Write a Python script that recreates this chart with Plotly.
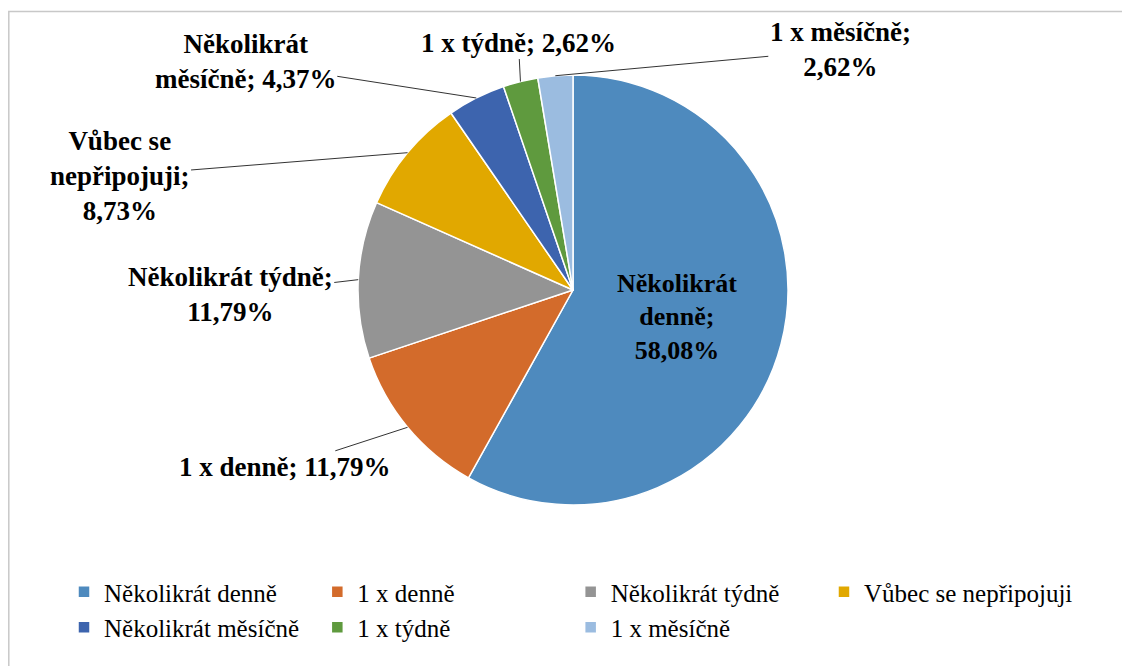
import math
import plotly.graph_objects as go

# Data
categories = ["Několikrát denně", "1 x denně", "Několikrát týdně", "Vůbec se nepřipojuji",
              "Několikrát měsíčně", "1 x týdně", "1 x měsíčně"]
shares = [58.08, 11.79, 11.79, 8.73, 4.37, 2.62, 2.62]
# wrapped label names as in the original chart
label_names = ["Několikrát<br>denně;", "1 x denně;", "Několikrát týdně;", "Vůbec se<br>nepřipojuji;",
               "Několikrát<br>měsíčně;", "1 x týdně;", "1 x měsíčně;"]
label_breaks = ["<br>", " ", "<br>", "<br>", " ", " ", "<br>"]
colors = ["#4E8ABE", "#D36B2B", "#949494", "#E1A800", "#3D64AE", "#5F9A3E", "#9BBCE0"]

W, H = 1130, 666
OFF = 8  # page body margin shifts the whole figure by 8px
FONT = "Liberation Serif, Times New Roman, Tinos, DejaVu Serif, serif"

def fmt(v):
    return f"{v:.2f}".replace(".", ",") + "%"

labels = [n + b + fmt(v) for n, b, v in zip(label_names, label_breaks, shares)]

dom_x = [(358 - OFF) / W, (788 - OFF) / W]
dom_y = [1 - (505 - OFF) / H, 1 - (75 - OFF) / H]

fig = go.Figure()
fig.add_trace(go.Pie(
    labels=categories,
    values=shares,
    text=[labels[0]] + [""] * (len(labels) - 1),
    textinfo="text",
    textposition="inside",
    insidetextorientation="horizontal",
    textfont=dict(family=FONT, size=26, color="black", weight="bold"),
    marker=dict(colors=colors, line=dict(color="white", width=1.5)),
    sort=False,
    direction="clockwise",
    rotation=0,
    domain=dict(x=dom_x, y=dom_y),
    hoverinfo="label+value",
))

# outside labels with leader lines, anchored at the slice edge
cx = (dom_x[0] + dom_x[1]) / 2 * W
cy = (1 - (dom_y[0] + dom_y[1]) / 2) * H
r = min((dom_x[1] - dom_x[0]) * W, (dom_y[1] - dom_y[0]) * H) / 2
offsets = [None, (-123, 40), (-128, 15), (-288, 23), (-231, -36), (-2, -39), (285, -26)]

total = sum(shares)
cum = 0
for i, v in enumerate(shares):
    mid = (cum + v / 2) / total * 2 * math.pi
    cum += v
    if offsets[i] is None:
        continue
    px = cx + r * math.sin(mid)
    py = cy - r * math.cos(mid)
    fig.add_annotation(
        x=px / W, y=1 - py / H, xref="paper", yref="paper",
        text=labels[i], showarrow=True, arrowhead=0, arrowwidth=1, arrowcolor="#333333",
        ax=offsets[i][0], ay=offsets[i][1], align="center",
        font=dict(family=FONT, size=27, color="black", weight="bold"),
    )

# chart frame (cut at right and bottom)
fig.add_shape(type="rect", xref="paper", yref="paper",
              x0=0.8 / W, x1=1.05, y0=-0.05, y1=1 - 3.5 / H,
              line=dict(color="#C8C8C8", width=1.5), fillcolor="rgba(0,0,0,0)")

fig.update_layout(
    width=W, height=H,
    margin=dict(l=0, r=0, t=0, b=0),
    paper_bgcolor="white",
    plot_bgcolor="white",
    showlegend=True,
    legend=dict(orientation="h", x=56 / W, xanchor="left", y=1 - 561 / H, yanchor="top",
                font=dict(family=FONT, size=25, color="black"),
                itemwidth=30, bgcolor="rgba(0,0,0,0)"),
)

fig.write_html("out.html")
